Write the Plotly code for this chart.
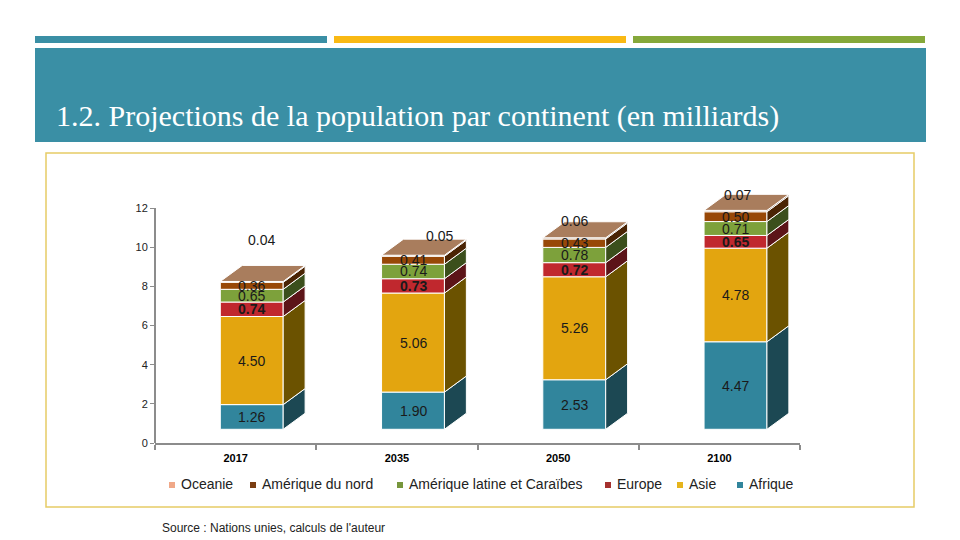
import plotly.graph_objects as go
import numpy as np

# ---------------- data ----------------
years = ["2017", "2035", "2050", "2100"]
afrique = [1.26, 1.90, 2.53, 4.47]
asie = [4.50, 5.06, 5.26, 4.78]
europe = [0.74, 0.73, 0.72, 0.65]
am_latine = [0.65, 0.74, 0.78, 0.71]
am_nord = [0.36, 0.41, 0.43, 0.50]
oceanie = [0.04, 0.05, 0.06, 0.07]
y_ticks = [0, 2, 4, 6, 8, 10, 12]

# ---------------- style ----------------
W, H = 960, 540
FONT = "Liberation Sans, Arial, sans-serif"
BASE = 0.7          # 3D floor offset
BAR_W = 0.39
BAR_OFF = -0.095
DX, DY = 0.136, 0.82   # 3D depth
X_DOM = (155, 800)
Y_RANGE = (0, 13)
Y0_PX = 443
PX_PER_UNIT = 19.58

def px(x):
    return x / W

def py(y):
    return 1 - y / H

series = [  # bottom to top: name, values, front, side, legend colour, bold label
    ("Afrique", afrique, "#31859C", "#1C4853", "#31859C", False),
    ("Asie", asie, "#E3A50F", "#6B5200", "#E6B41C", False),
    ("Europe", europe, "#C0282E", "#5C1418", "#A5312F", True),
    ("Amérique latine et Caraïbes", am_latine, "#7DA13B", "#3B4F1C", "#77963C", False),
    ("Amérique du nord", am_nord, "#984807", "#4A2404", "#7A3E12", False),
    ("Oceanie", oceanie, "#A97D5D", "#5A3A22", "#F0A888", False),
]
TOP_FACE = "#A97D5D"

fig = go.Figure()
shapes = []
annotations = []

xs = np.arange(len(years))
cum = np.full(len(years), BASE, dtype=float)
x0s = xs + BAR_OFF
x1s = xs + BAR_OFF + BAR_W
xc = xs + BAR_OFF + BAR_W / 2

for name, vals, front, side, leg, bold in series:
    v = np.array(vals, dtype=float)
    fig.add_trace(go.Bar(
        x=xs, y=v, base=cum.copy(), width=BAR_W, offset=BAR_OFF, name=name,
        marker=dict(color=front, line=dict(color="white", width=1)),
        showlegend=False, hoverinfo="skip",
    ))
    for i in range(len(years)):
        lo, hi = cum[i], cum[i] + v[i]
        x1 = x1s[i]
        shapes.append(dict(
            type="path", xref="x", yref="y", layer="above",
            path=f"M{x1},{lo} L{x1+DX},{lo+DY} L{x1+DX},{hi+DY} L{x1},{hi} Z",
            fillcolor=side, line=dict(color="white", width=1),
        ))
        if name != "Oceanie":
            annotations.append(dict(
                x=xc[i], y=(lo + hi) / 2, xref="x", yref="y",
                text=(f"<b>{vals[i]:.2f}</b>" if bold else f"{vals[i]:.2f}"),
                showarrow=False,
                font=dict(family=FONT, size=14, color="#1a1a1a"),
            ))
    cum = cum + v

# top faces
for i in range(len(years)):
    top = cum[i]
    shapes.append(dict(
        type="path", xref="x", yref="y", layer="above",
        path=f"M{x0s[i]},{top} L{x0s[i]+DX},{top+DY} L{x1s[i]+DX},{top+DY} L{x1s[i]},{top} Z",
        fillcolor=TOP_FACE, line=dict(color="white", width=1),
    ))

# oceania labels (floating above the bars, Excel-style placement)
oce_xshift = [10, 26, 0, 2]
oce_yshift = [41, 19, 17, 15]
for i in range(len(years)):
    annotations.append(dict(
        x=xc[i], y=cum[i], xref="x", yref="y",
        text=f"{oceanie[i]:.2f}", showarrow=False,
        xshift=oce_xshift[i], yshift=oce_yshift[i],
        font=dict(family=FONT, size=14, color="#1a1a1a"),
    ))

# manual legend (small square markers close to the text)
legend_x = [172, 253, 400, 608, 680, 740]
LEG_Y = 484
for (name, vals, front, side, leg, bold), lx in zip(reversed(series), legend_x):
    shapes.append(dict(type="rect", xref="paper", yref="paper",
                       x0=px(lx - 3), x1=px(lx + 3), y0=py(LEG_Y + 4), y1=py(LEG_Y - 2),
                       fillcolor=leg, line=dict(width=0)))
    annotations.append(dict(x=px(lx + 7), y=py(LEG_Y), xref="paper", yref="paper",
                            xanchor="left", yanchor="middle", text=name, showarrow=False,
                            font=dict(family=FONT, size=14, color="#222")))

# decorations: header bars, title box, frame
shapes += [
    dict(type="rect", xref="paper", yref="paper", x0=px(35), x1=px(327), y0=py(43), y1=py(36),
         fillcolor="#3A8FA5", line=dict(width=0), layer="below"),
    dict(type="rect", xref="paper", yref="paper", x0=px(334), x1=px(626), y0=py(43), y1=py(36),
         fillcolor="#F9B914", line=dict(width=0), layer="below"),
    dict(type="rect", xref="paper", yref="paper", x0=px(633), x1=px(925), y0=py(43), y1=py(36),
         fillcolor="#85A83A", line=dict(width=0), layer="below"),
    dict(type="rect", xref="paper", yref="paper", x0=px(35), x1=px(926), y0=py(142), y1=py(48),
         fillcolor="#3A8FA5", line=dict(width=0), layer="below"),
    dict(type="rect", xref="paper", yref="paper", x0=px(46), x1=px(914), y0=py(507), y1=py(153),
         fillcolor="rgba(0,0,0,0)", line=dict(color="#E6CC66", width=1.5), layer="below"),
    # y axis line from 0 to 12
    dict(type="line", xref="paper", yref="y", x0=px(X_DOM[0]), x1=px(X_DOM[0]), y0=0, y1=12,
         line=dict(color="#8C8C8C", width=2), layer="above"),
]

annotations += [
    dict(x=px(54), y=py(116), xref="paper", yref="paper", xanchor="left", yanchor="middle",
         text="1.2. Projections de la population par continent (en milliards)", showarrow=False,
         font=dict(family="Liberation Serif, Times New Roman, serif", size=30, color="white")),
    dict(x=px(160), y=py(528), xref="paper", yref="paper", xanchor="left", yanchor="middle",
         text="Source : Nations unies, calculs de l'auteur", showarrow=False,
         font=dict(family=FONT, size=12, color="#222")),
]

y_top_px = Y0_PX - (Y_RANGE[1] - Y_RANGE[0]) * PX_PER_UNIT

fig.update_layout(
    width=W, height=H,
    margin=dict(l=0, r=0, t=0, b=0, pad=0, autoexpand=False),
    paper_bgcolor="white", plot_bgcolor="white",
    barmode="overlay", showlegend=False,
    shapes=shapes, annotations=annotations,
    xaxis=dict(
        domain=[px(X_DOM[0]), px(X_DOM[1])], range=[-0.5, 3.5],
        tickmode="array", tickvals=list(xs), ticktext=[f"<b>{y}</b>" for y in years],
        ticks="", showline=True, linecolor="#8C8C8C", linewidth=2,
        showgrid=False, zeroline=False, automargin=False,
        tickfont=dict(family=FONT, size=11, color="black"),
        ticklabelstandoff=4,
        minor=dict(tickmode="array", tickvals=[-0.5, 0.5, 1.5, 2.5, 3.5], ticks="outside",
                   ticklen=5, tickcolor="#8C8C8C", tickwidth=1.5),
    ),
    yaxis=dict(
        domain=[py(Y0_PX), py(y_top_px)], range=list(Y_RANGE),
        tickmode="array", tickvals=y_ticks, ticks="outside", ticklen=4,
        tickcolor="#8C8C8C", showline=False, showgrid=False, zeroline=False, automargin=False,
        tickfont=dict(family=FONT, size=11, color="#222"),
    ),
)

fig.write_html("out.html")
